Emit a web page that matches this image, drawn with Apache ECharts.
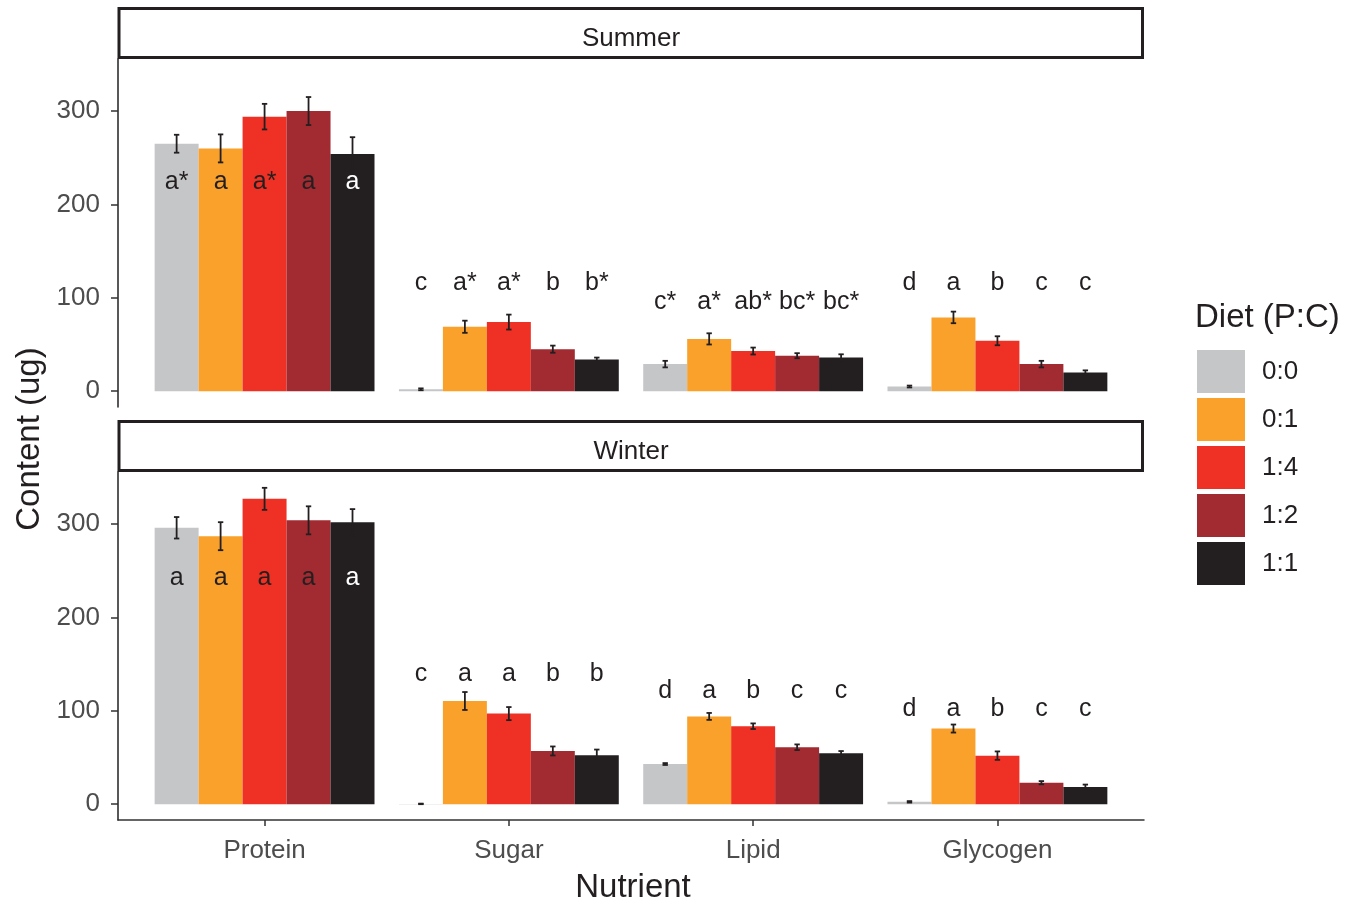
<!DOCTYPE html>
<html>
<head>
<meta charset="utf-8">
<title>Nutrient content by diet</title>
<script src="https://cdn.jsdelivr.net/npm/echarts@6/dist/echarts.min.js"></script>
<style>
  html, body { margin: 0; padding: 0; background: #ffffff; }
  #chart { width: 1360px; height: 900px; }
</style>
</head>
<body>
<div id="chart"></div>
<script>
// ---- data ----
const nutrients = ['Protein', 'Sugar', 'Lipid', 'Glycogen'];
const seasons = ['Summer', 'Winter'];
const diets = ['0:0', '0:1', '1:4', '1:2', '1:1'];
const dietColors = ['#C5C6C8', '#F9A12A', '#EE3124', '#A22A31', '#231F20'];
const yTicks = [0, 100, 200, 300];

// mean content (ug), one array per diet, ordered as `nutrients`
const summerMean = {
  '0:0': [265, 2, 29, 5],
  '0:1': [260, 69, 56, 79],
  '1:4': [294, 74, 43, 54],
  '1:2': [300, 45, 38, 29],
  '1:1': [254, 34, 36, 20]
};
const summerSE = {
  '0:0': [9.6, 1, 3.5, 1],
  '0:1': [15, 6.5, 6, 6.2],
  '1:4': [13.7, 8, 3.7, 4.8],
  '1:2': [15, 3.8, 2.7, 3.5],
  '1:1': [18, 2, 3.5, 2.3]
};
const winterMean = {
  '0:0': [296, 0.3, 43, 2.5],
  '0:1': [287, 110.5, 94, 81],
  '1:4': [327, 97, 83.5, 52],
  '1:2': [304, 57, 61, 23],
  '1:1': [302, 52.5, 54.5, 18.5]
};
const winterSE = {
  '0:0': [11.5, 0.3, 1, 0.8],
  '0:1': [15, 9.6, 3.7, 4.3],
  '1:4': [11.8, 7, 3, 4.5],
  '1:2': [15, 4.8, 3, 1.7],
  '1:1': [14, 6, 2.4, 2.5]
};

// significance letters, one array per nutrient, ordered as `diets`
const summerLetters = {
  Protein: ['a*', 'a', 'a*', 'a', 'a'],
  Sugar: ['c', 'a*', 'a*', 'b', 'b*'],
  Lipid: ['c*', 'a*', 'ab*', 'bc*', 'bc*'],
  Glycogen: ['d', 'a', 'b', 'c', 'c']
};
const winterLetters = {
  Protein: ['a', 'a', 'a', 'a', 'a'],
  Sugar: ['c', 'a', 'a', 'b', 'b'],
  Lipid: ['d', 'a', 'b', 'c', 'c'],
  Glycogen: ['d', 'a', 'b', 'c', 'c']
};
// height (ug) at which each nutrient's letters are written
const summerLetterAt = [225, 117, 96, 117];
const winterLetterAt = [243, 140, 122, 103];

// ---- layout ----
const FONT = "'Liberation Sans', Arial, Helvetica, sans-serif";
const INK = '#231F20';
const TICK_TEXT = '#4D4D4D';
const PANEL_LEFT = 118, PANEL_RIGHT = 1144;
const PANEL_TOP = [59, 472], PANEL_H = 348;
const STRIP_H = 50;
const DODGE = 0.9;       // width of a bar group, in category units
const CAP = 0.022;       // error bar cap width, in category units

const seasonData = [
  { mean: summerMean, se: summerSE, letters: summerLetters, at: summerLetterAt },
  { mean: winterMean, se: winterSE, letters: winterLetters, at: winterLetterAt }
];

// shared y scale with 5% padding on both sides of the data range
let yTop = 0;
seasonData.forEach(s => diets.forEach(d => s.mean[d].forEach((m, i) => {
  yTop = Math.max(yTop, m + s.se[d][i]);
})));
const yMin = -0.05 * yTop, yMax = yTop * 1.05;

function slotCenter(api, cat, dietIdx) {
  const slot = api.size([DODGE / diets.length, 0])[0];
  return { cx: api.coord([cat, 0])[0] + (dietIdx - (diets.length - 1) / 2) * slot, slot };
}

function barRenderer(dietIdx) {
  return function (params, api) {
    const cat = api.value(0), mean = api.value(1);
    const { cx, slot } = slotCenter(api, cat, dietIdx);
    const top = api.coord([cat, mean])[1];
    const base = api.coord([cat, 0])[1];
    return {
      type: 'rect',
      shape: { x: cx - slot / 2, y: top, width: slot, height: base - top },
      style: { fill: dietColors[dietIdx] }
    };
  };
}

function overlayRenderer(records) {
  return function (params, api) {
    const rec = records[params.dataIndex];
    const cat = api.value(0), mean = api.value(2), se = api.value(3), at = api.value(4);
    const { cx } = slotCenter(api, cat, rec.diet);
    const capHalf = api.size([CAP, 0])[0] / 2;
    const yHi = api.coord([cat, mean + se])[1];
    const yLo = api.coord([cat, mean - se])[1];
    const yTxt = api.coord([cat, at])[1];
    const line = { stroke: INK, lineWidth: 1.8 };
    const inside = at < mean && rec.diet === diets.length - 1;
    return {
      type: 'group',
      children: [
        { type: 'line', shape: { x1: cx, y1: yHi, x2: cx, y2: yLo }, style: line },
        { type: 'line', shape: { x1: cx - capHalf, y1: yHi, x2: cx + capHalf, y2: yHi }, style: line },
        { type: 'line', shape: { x1: cx - capHalf, y1: yLo, x2: cx + capHalf, y2: yLo }, style: line },
        {
          type: 'text',
          style: {
            text: rec.letter, x: cx, y: yTxt + 1,
            textAlign: 'center', textVerticalAlign: 'middle',
            font: '25px ' + FONT, fill: inside ? '#FFFFFF' : INK
          }
        }
      ]
    };
  };
}

const grids = [], xAxes = [], yAxes = [], series = [], graphics = [];

seasons.forEach((season, si) => {
  const sd = seasonData[si];
  const isBottom = si === seasons.length - 1;
  grids.push({ left: PANEL_LEFT, right: 1360 - PANEL_RIGHT, top: PANEL_TOP[si], height: PANEL_H });
  xAxes.push({
    type: 'value', gridIndex: si, min: 0.4, max: nutrients.length + 0.6,
    axisLine: { show: isBottom, onZero: false, lineStyle: { color: '#333333', width: 1.5 } },
    axisTick: { show: isBottom, customValues: nutrients.map((n, i) => i + 1), length: 6, lineStyle: { color: '#333333', width: 1.5 } },
    axisLabel: {
      show: isBottom, customValues: nutrients.map((n, i) => i + 1),
      formatter: v => nutrients[Math.round(v) - 1],
      fontFamily: FONT, fontSize: 26, color: TICK_TEXT, margin: 18
    },
    splitLine: { show: false }
  });
  yAxes.push({
    type: 'value', gridIndex: si, min: yMin, max: yMax,
    axisLine: { show: true, lineStyle: { color: INK, width: 1.5 } },
    axisTick: { show: true, customValues: yTicks, length: 7, lineStyle: { color: '#333333', width: 1.5 } },
    axisLabel: { customValues: yTicks, fontFamily: FONT, fontSize: 26, color: TICK_TEXT, margin: 18 },
    splitLine: { show: false }
  });

  diets.forEach((d, di) => {
    series.push({
      name: d, type: 'custom', xAxisIndex: si, yAxisIndex: si,
      itemStyle: { color: dietColors[di] },
      renderItem: barRenderer(di),
      encode: { x: 0, y: 1 },
      data: nutrients.map((n, ni) => [ni + 1, sd.mean[d][ni]]),
      z: 2, silent: true
    });
  });

  const records = [];
  const rows = [];
  nutrients.forEach((n, ni) => diets.forEach((d, di) => {
    records.push({ diet: di, letter: sd.letters[n][di] });
    rows.push([ni + 1, di, sd.mean[d][ni], sd.se[d][ni], sd.at[ni]]);
  }));
  series.push({
    type: 'custom', xAxisIndex: si, yAxisIndex: si,
    renderItem: overlayRenderer(records),
    encode: { x: 0, y: [2, 3, 4] },
    data: rows, z: 5, silent: true
  });

  // facet strip
  const stripTop = PANEL_TOP[si] - STRIP_H;
  graphics.push(
    { type: 'rect', shape: { x: PANEL_LEFT + 1, y: stripTop - 0.5, width: PANEL_RIGHT - PANEL_LEFT - 2.5, height: STRIP_H - 1 }, style: { fill: '#FFFFFF', stroke: INK, lineWidth: 3 }, z: 10 },
    { type: 'text', x: (PANEL_LEFT + PANEL_RIGHT) / 2, y: stripTop + STRIP_H / 2 + 5, style: { text: season, font: '26px ' + FONT, fill: INK, textAlign: 'center', textVerticalAlign: 'middle' }, z: 11 }
  );
});

// axis titles and legend heading
graphics.push(
  { type: 'text', x: (PANEL_LEFT + PANEL_RIGHT) / 2 + 2, y: 888, style: { text: 'Nutrient', font: '33px ' + FONT, fill: INK, textAlign: 'center', textVerticalAlign: 'middle' } },
  { type: 'text', x: 30, y: 439, rotation: Math.PI / 2, style: { text: 'Content (ug)', font: '33px ' + FONT, fill: INK, textAlign: 'center', textVerticalAlign: 'middle' } },
  { type: 'text', x: 1195, y: 318, style: { text: 'Diet (P:C)', font: '33px ' + FONT, fill: INK, textAlign: 'left', textVerticalAlign: 'middle' } }
);

const chart = echarts.init(document.getElementById('chart'), null, { renderer: 'canvas' });
chart.setOption({
  animation: false,
  backgroundColor: '#FFFFFF',
  textStyle: { fontFamily: FONT },
  grid: grids,
  xAxis: xAxes,
  yAxis: yAxes,
  legend: {
    data: diets, orient: 'vertical', left: 1192, top: 345,
    icon: 'rect', itemWidth: 48, itemHeight: 43, itemGap: 5,
    selectedMode: false,
    textStyle: { fontFamily: FONT, fontSize: 26, color: INK, padding: [0, 0, 0, 12] }
  },
  graphic: graphics,
  series: series
});
</script>
</body>
</html>
